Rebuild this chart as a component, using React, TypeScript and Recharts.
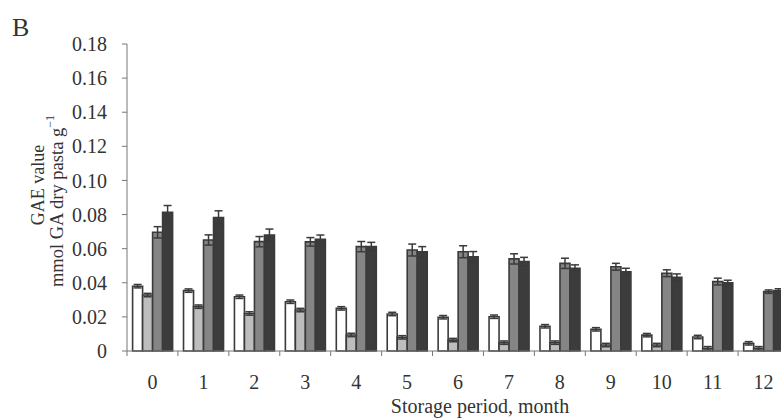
import React from "react";
import {
  BarChart,
  Bar,
  XAxis,
  YAxis,
  ErrorBar,
  Label,
} from "recharts";

const months = ["0", "1", "2", "3", "4", "5", "6", "7", "8", "9", "10", "11", "12"];

const whiteVals = [0.038, 0.0354, 0.0318, 0.0289, 0.025, 0.0217, 0.0198, 0.0201, 0.0145, 0.0127, 0.0093, 0.0082, 0.0045];
const lightVals = [0.0328, 0.026, 0.022, 0.024, 0.0094, 0.008, 0.0064, 0.0049, 0.0049, 0.0035, 0.0035, 0.0016, 0.0016];
const midVals = [0.0696, 0.0651, 0.0641, 0.064, 0.0612, 0.0592, 0.0582, 0.054, 0.0514, 0.0494, 0.0456, 0.0407, 0.0348];
const darkVals = [0.0813, 0.0782, 0.068, 0.0655, 0.0612, 0.0582, 0.0553, 0.0524, 0.0485, 0.0465, 0.0432, 0.04, 0.0355];

const whiteErr = [0.001, 0.001, 0.001, 0.001, 0.001, 0.001, 0.001, 0.001, 0.001, 0.001, 0.001, 0.001, 0.001];
const lightErr = [0.001, 0.001, 0.001, 0.001, 0.001, 0.001, 0.001, 0.001, 0.001, 0.001, 0.001, 0.001, 0.001];
const midErr = [0.0033, 0.003, 0.003, 0.0025, 0.003, 0.0035, 0.0035, 0.003, 0.003, 0.002, 0.002, 0.002, 0.001];
const darkErr = [0.004, 0.004, 0.0035, 0.0025, 0.0025, 0.003, 0.003, 0.0025, 0.002, 0.002, 0.002, 0.0015, 0.001];

const yTicks = [0, 0.02, 0.04, 0.06, 0.08, 0.1, 0.12, 0.14, 0.16, 0.18];

const data = months.map((m, i) => ({
  month: m,
  a: whiteVals[i],
  aErr: whiteErr[i],
  b: lightVals[i],
  bErr: lightErr[i],
  c: midVals[i],
  cErr: midErr[i],
  d: darkVals[i],
  dErr: darkErr[i],
}));

const FONT = "'Liberation Serif', 'Times New Roman', serif";
const TEXT = "#333";
const AXIS = "#777";
const EDGE = "#3a3a3a";

const W = 800;
const H = 418;
const Y_W = 127;
const M_RIGHT = 11;
const AXIS_Y = 351;
const BAND = (W - M_RIGHT - Y_W) / months.length;

// category ticks sit between the groups, labels in the middle
const XTick = (props: any) => {
  const { x, y, payload } = props;
  const bx = x - BAND / 2;
  return (
    <g>
      <line x1={bx} y1={AXIS_Y} x2={bx} y2={AXIS_Y + 5} stroke={AXIS} />
      <text
        x={x}
        y={y}
        dy="0.71em"
        textAnchor="middle"
        fill={TEXT}
        fontSize={20}
        fontFamily={FONT}
      >
        {payload.value}
      </text>
    </g>
  );
};

export default function App() {
  return (
    <div
      style={{
        position: "fixed",
        left: 0,
        top: 0,
        width: 781,
        height: 418,
        overflow: "hidden",
        background: "#fff",
      }}
    >
      <div
        style={{
          position: "absolute",
          left: 12,
          top: 13,
          fontFamily: FONT,
          fontSize: 26,
          color: TEXT,
          lineHeight: "30px",
        }}
      >
        B
      </div>
      <svg
        width={80}
        height={418}
        style={{ position: "absolute", left: 0, top: 0 }}
      >
        <text
          x={38}
          y={185}
          transform="rotate(-90, 38, 185)"
          textAnchor="middle"
          dominantBaseline="central"
          fill={TEXT}
          fontSize={18}
          fontFamily={FONT}
        >
          GAE value
        </text>
        <text
          x={57}
          y={201}
          transform="rotate(-90, 57, 201)"
          textAnchor="middle"
          dominantBaseline="central"
          fill={TEXT}
          fontSize={18.5}
          fontFamily={FONT}
        >
          mmol GA dry pasta g
          <tspan fontSize={12} dy={-7}>
            −1
          </tspan>
        </text>
      </svg>
      <div style={{ position: "absolute", left: 0, top: 0 }}>
        <BarChart
          width={W}
          height={H}
          data={data}
          margin={{ top: 44, right: M_RIGHT, left: 0, bottom: 0 }}
          barCategoryGap="11%"
          barGap={0}
          style={{ fontFamily: FONT }}
        >
          <XAxis
            dataKey="month"
            height={H - AXIS_Y}
            stroke={AXIS}
            tickLine={false}
            tickSize={5}
            tickMargin={19}
            tick={<XTick />}
            interval={0}
          >
            <Label
              value="Storage period, month"
              position="insideBottom"
              offset={5}
              dx={22}
              fill={TEXT}
              fontSize={20}
              fontFamily={FONT}
            />
          </XAxis>
          <YAxis
            width={Y_W}
            domain={[0, 0.18]}
            ticks={yTicks}
            interval={0}
            stroke={AXIS}
            tickSize={5}
            tickMargin={15}
            tickFormatter={(v: number) => (v === 0 ? "0" : v.toFixed(2))}
            tick={{ fill: TEXT, fontSize: 20, fontFamily: FONT }}
          />
          <Bar dataKey="a" fill="#ffffff" stroke={EDGE} strokeWidth={1.6} isAnimationActive={false}>
            <ErrorBar dataKey="aErr" width={4} stroke={EDGE} strokeWidth={1.5} />
          </Bar>
          <Bar dataKey="b" fill="#bdbdbd" stroke={EDGE} strokeWidth={1.6} isAnimationActive={false}>
            <ErrorBar dataKey="bErr" width={4} stroke={EDGE} strokeWidth={1.5} />
          </Bar>
          <Bar dataKey="c" fill="#858585" stroke={EDGE} strokeWidth={1.6} isAnimationActive={false}>
            <ErrorBar dataKey="cErr" width={4} stroke={EDGE} strokeWidth={1.5} />
          </Bar>
          <Bar dataKey="d" fill="#3c3c3c" stroke={EDGE} strokeWidth={1.6} isAnimationActive={false}>
            <ErrorBar dataKey="dErr" width={4} stroke={EDGE} strokeWidth={1.5} />
          </Bar>
        </BarChart>
      </div>
    </div>
  );
}
